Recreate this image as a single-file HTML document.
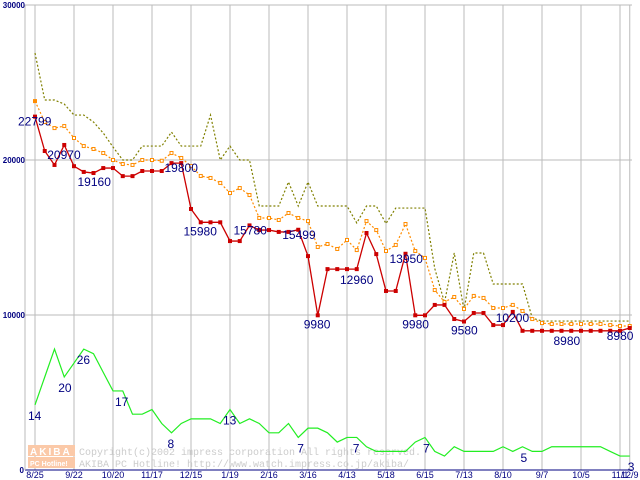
<!DOCTYPE html>
<html><head><meta charset="utf-8"><style>
body{margin:0;background:#fff}
svg{display:block;font-family:"Liberation Sans",sans-serif}
</style></head><body>
<svg id="chart" width="640" height="480" viewBox="0 0 640 480" xmlns="http://www.w3.org/2000/svg"></svg>
<script>
const xTickLabels=["8/25","9/22","10/20","11/17","12/15","1/19","2/16","3/16","4/13","5/18","6/15","7/13","8/10","9/7","10/5","11/1","12/9"];
const xTickIdx=[0,4,8,12,16,20,24,28,32,36,40,44,48,52,56,60,61];
const yTicks=[0,10000,20000,30000];
const minPrice=[22799,20580,19680,20970,19600,19230,19160,19480,19480,18960,18960,19290,19290,19290,19800,19800,16840,15980,15980,15980,14770,14770,15780,15480,15480,15360,15360,15499,13800,9980,12960,12960,12960,12960,15290,13930,11550,11550,13950,9980,9980,10650,10650,9740,9580,10130,10130,9350,9350,10200,8980,8980,8980,8980,8980,8980,8980,8980,8980,8980,8980,9160];
const avgPrice=[23800,22450,22060,22190,21420,20900,20710,20450,20000,19740,19680,20000,20000,19950,20450,20130,19610,18970,18840,18520,17870,18190,17740,16260,16260,16130,16580,16260,16060,14390,14580,14260,14840,14190,16060,15480,14130,14520,15870,14130,13680,11610,10840,11160,10390,11230,11100,10450,10450,10650,10260,9740,9480,9420,9420,9420,9420,9420,9420,9350,9290,9290];
const maxPrice=[26900,23870,23870,23610,22900,22900,22450,21740,20840,20000,20000,20900,20900,20900,21800,20900,20900,20900,22900,20000,20900,20000,20000,17030,17030,17030,18580,17030,18580,17030,17030,17030,17030,15940,17030,17030,15900,16900,16900,16900,16900,13000,10800,14000,10300,14000,14000,12000,12000,12000,12000,9800,9610,9610,9610,9610,9610,9610,9610,9610,9610,9610];
const shopCount=[14,20,26,20,23,26,25,21,17,17,12,12,13,10,8,10,11,11,11,10,13,10,11,10,8,8,10,7,9,9,8,6,7,7,5,4,4,4,4,6,7,4,3,5,4,4,4,4,5,4,5,4,4,5,5,5,5,5,5,4,3,3];
const priceLabels=[[0,"22799",-17,9],[3,"20970",-17,14],[6,"19160",-16,13],[14,"19800",-7,9],[18,"15980",-27,13],[22,"15780",-16,9],[27,"15499",-16,9],[29,"9980",-14,13],[32,"12960",-7,15],[38,"13950",-16,9],[39,"9980",-13,13],[44,"9580",-13,13],[49,"10200",-17,10],[54,"8980",-8,14],[61,"8980",-23,12]];
const countLabels=[[0,"14",-7,10],[3,"20",-6,10],[5,"26",-7,10],[8,"17",2,10],[14,"8",-4,10],[20,"13",-7,10],[27,"7",-1,10],[33,"7",-4,10],[40,"7",-2,10],[50,"5",-2,10],[61,"3",-2,10]];

const svg=document.getElementById('chart');
const NS='http://www.w3.org/2000/svg';
const X0=35,DX=9.75,Y0=470;
const xs=i=>X0+DX*i;
const yp=v=>Y0-v*0.0155;
const yc=v=>Y0-v*4.65;
function mk(t,a,p){const e=document.createElementNS(NS,t);for(const k in a)e.setAttribute(k,a[k]);(p||svg).appendChild(e);return e;}

xTickIdx.forEach((ix,k)=>{
  const l=mk('line',{x1:xs(ix),x2:xs(ix),y1:5,y2:Y0,stroke:'#bbb','stroke-width':1});
  
  
  const t=mk('text',{x:xs(ix),y:478,'text-anchor':'middle','font-size':9,fill:'#000080'});
  t.textContent=xTickLabels[k];
  
  
});
yTicks.forEach(v=>{
  const l=mk('line',{x1:25,x2:632,y1:yp(v),y2:yp(v),stroke:v===0?'#000080':'#bbb','stroke-width':1});
  
  
  const t=mk('text',{x:v===0?24:25,y:yp(v)+3,'text-anchor':'end','font-size':8,'font-weight':'bold',fill:'#000080'});
  t.textContent=String(v);
  
  
});
const ax=mk('line',{x1:25,x2:25,y1:5,y2:Y0,stroke:'#bbb'});



const wm=mk('g',{});


mk('rect',{x:28,y:445,width:47,height:11,fill:'#fbc9a8'},wm);
mk('rect',{x:28,y:457,width:47,height:11,fill:'#fbc9a8'},wm);
const w1=mk('text',{x:30,y:455,'font-size':10,'font-weight':'bold',fill:'#fff','letter-spacing':2},wm);w1.textContent='AKIBA';
const w2=mk('text',{x:30,y:466,'font-size':7,'font-weight':'bold',fill:'#fff'},wm);w2.textContent='PC Hotline!';
const w3=mk('text',{x:79,y:455,'font-size':10,'font-family':'Liberation Mono,monospace',fill:'#ccc'},wm);w3.textContent='Copyright(c)2002 impress corporation All rights reserved.';
const w4=mk('text',{x:79,y:467,'font-size':10,'font-family':'Liberation Mono,monospace',fill:'#ccc'},wm);w4.textContent='AKIBA PC Hotline!  http://www.watch.impress.co.jp/akiba/';

function series(arr,fy,color,dash,name,w){
  const p=mk('polyline',{points:arr.map((v,i)=>xs(i)+','+fy(v)).join(' '),fill:'none',stroke:color,'stroke-width':w||1.3,'stroke-dasharray':dash||'none'});
  
  
}
series(maxPrice,yp,'#808000','2,2','max-price-line',1.2);
series(shopCount,yc,'#22ee22',null,'shop-count-line',1.2);
series(avgPrice,yp,'#ff8c00','2,2','avg-price-line',1.2);
avgPrice.forEach((v,i)=>{
  const r=mk('rect',{x:xs(i)-1.5,y:yp(v)-1.5,width:3,height:3,fill:i===0?'#ff8c00':'#fff',stroke:'#ff8c00','stroke-width':1});
  
  
});
series(minPrice,yp,'#cc0000',null,'min-price-line',1.3);
minPrice.forEach((v,i)=>{
  const r=mk('rect',{x:xs(i)-2,y:yp(v)-2,width:4,height:4,fill:'#cc0000'});
  
  
});
priceLabels.forEach(([i,s,dx,dy])=>{
  const t=mk('text',{x:xs(i)+dx,y:yp(minPrice[i])+dy,'font-size':12,fill:'#000080'});
  t.textContent=s;
  
  
});
countLabels.forEach(([i,s,dx,dy])=>{
  const t=mk('text',{x:xs(i)+dx,y:yc(shopCount[i])+dy+5,'font-size':12,fill:'#000080'});
  t.textContent=s;
  
  
});
</script>
</body></html>
